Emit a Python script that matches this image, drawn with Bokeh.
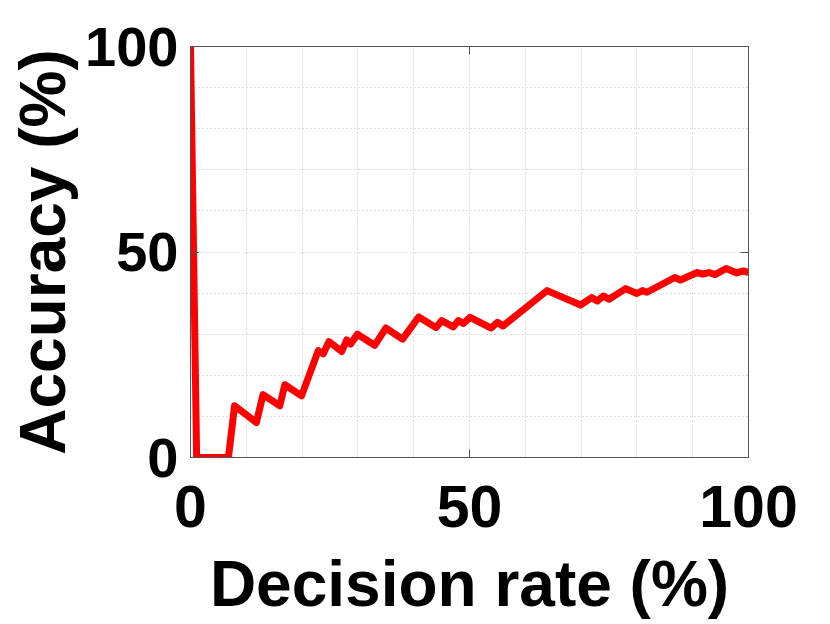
from bokeh.plotting import figure
from bokeh.models import LinearAxis, FixedTicker, SingleIntervalTicker, Range1d
from bokeh.embed import file_html
from bokeh.resources import INLINE

decision_rate = [0, 1.1, 6.8, 7.9, 11.8, 13.0, 16.0, 16.9, 19.9, 22.9, 23.8, 24.8, 27.1,
                 28.0, 28.7, 29.9, 33.0, 35.0, 38.0, 40.9, 44.0, 45.0, 47.1, 48.0, 48.9,
                 50.1, 53.9, 55.0, 56.0, 63.9, 69.9, 71.9, 72.9, 74.0, 75.0, 78.0, 80.0,
                 81.0, 81.8, 86.8, 87.8, 90.8, 91.8, 92.9, 94.0, 96.0, 97.9, 99.1, 100]
accuracy = [100, 0, 0, 12.6, 8.5, 15.3, 12.6, 17.7, 15.0, 26.0, 25.2, 28.2, 25.8,
            28.6, 27.6, 30.0, 27.3, 31.5, 28.8, 34.2, 31.6, 33.3, 31.8, 33.3, 32.6,
            34.1, 31.5, 32.9, 32.0, 40.6, 37.1, 38.9, 38.1, 39.3, 38.5, 41.1, 39.9,
            40.6, 40.2, 43.8, 43.2, 45.0, 44.6, 45.0, 44.5, 46.0, 44.9, 45.4, 45.0]
tick_values = [0, 50, 100]

FONT = "Liberation Sans"

p = figure(width=814, height=608, output_backend="svg", toolbar_location=None,
           x_range=Range1d(0, 100), y_range=Range1d(0, 100),
           frame_width=558, frame_height=411,
           min_border_left=190, min_border_right=66, min_border_top=46, min_border_bottom=151,
           x_axis_label="Decision rate (%)", y_axis_label="Accuracy (%)")

p.line(decision_rate, accuracy, line_color="#ff0000", line_width=7, line_join="round")

p.outline_line_color = "#555555"
p.outline_line_width = 1

for ax in [p.xaxis[0], p.yaxis[0]]:
    ax.ticker = FixedTicker(ticks=tick_values)
    ax.major_tick_in = 8
    ax.major_tick_out = 0
    ax.minor_tick_line_color = None
    ax.axis_line_color = "#555555"
    ax.major_tick_line_color = "#555555"
    ax.major_label_text_font = FONT
    ax.major_label_text_font_style = "bold"
    ax.major_label_text_font_size = "59px"
    ax.major_label_text_color = "black"
    ax.axis_label_text_font = FONT
    ax.axis_label_text_font_style = "bold"
    ax.axis_label_text_font_size = "64px"
    ax.axis_label_text_color = "black"

p.yaxis[0].major_label_text_font_size = "56px"
p.xaxis[0].major_label_standoff = 28
p.xaxis[0].axis_label_standoff = 18
p.yaxis[0].major_label_standoff = 12
p.yaxis[0].axis_label_standoff = 3

for loc in ["above", "right"]:
    ax = LinearAxis(ticker=FixedTicker(ticks=tick_values))
    ax.major_tick_in = 8
    ax.major_tick_out = 0
    ax.minor_tick_line_color = None
    ax.axis_line_color = "#555555"
    ax.major_tick_line_color = "#555555"
    ax.major_label_text_font_size = "0px"
    ax.major_label_text_color = None
    p.add_layout(ax, loc)

for g in [p.xgrid[0], p.ygrid[0]]:
    g.ticker = SingleIntervalTicker(interval=10)
    g.grid_line_color = "#bbbbbb"
    g.grid_line_dash = "1 3"
    g.grid_line_width = 1

open("out.html", "w").write(file_html(p, INLINE))
